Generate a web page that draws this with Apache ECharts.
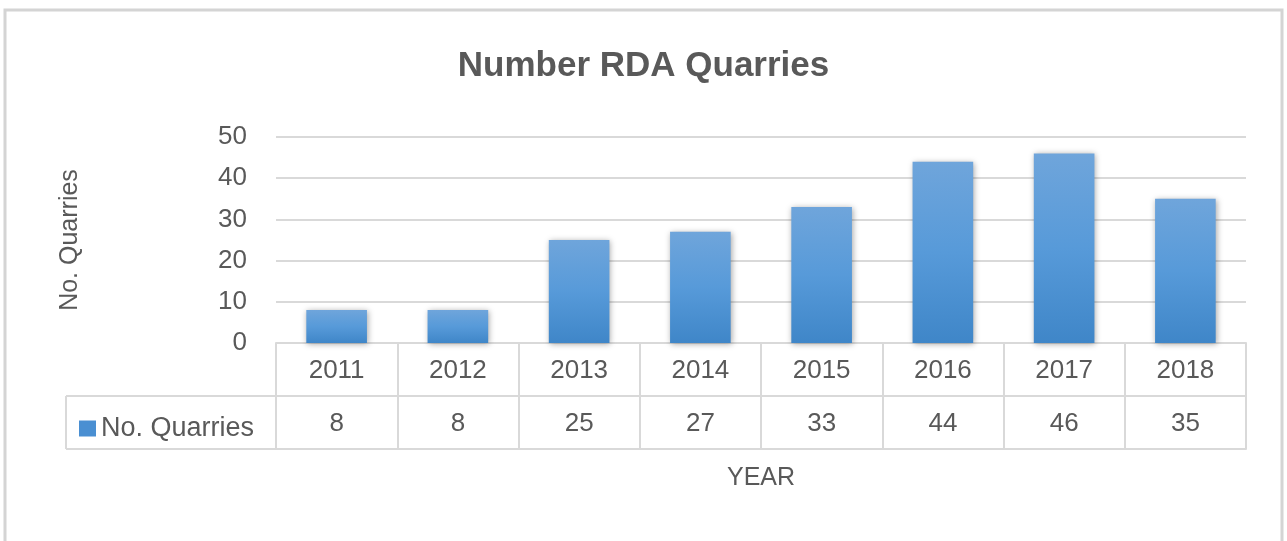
<!DOCTYPE html>
<html>
<head>
<meta charset="utf-8">
<script src="https://cdn.jsdelivr.net/npm/echarts@6/dist/echarts.min.js"></script>
<style>
  html, body { margin: 0; padding: 0; background: #fff; }
  #chart { width: 1287px; height: 541px; }
</style>
</head>
<body>
<div id="chart"></div>
<script>
const years = ['2011', '2012', '2013', '2014', '2015', '2016', '2017', '2018'];
const quarries = [8, 8, 25, 27, 33, 44, 46, 35];
const seriesName = 'No. Quarries';

// plot box (px)
const gLeft = 276, gRight = 1246, gTop = 137, axisY = 343;
const rowH = 53, legendLeft = 66;
const lineCol = '#d9d9d9';
const textCol = '#595959';
const font = 'Liberation Sans';

const chart = echarts.init(document.getElementById('chart'));

const tableLines = [
    // legend cell of the data table
    [legendLeft, axisY + rowH, gLeft, axisY + rowH],
    [legendLeft, axisY + 2 * rowH, gLeft, axisY + 2 * rowH],
    [legendLeft, axisY + rowH, legendLeft, axisY + 2 * rowH]
].map(p => ({
    type: 'line',
    shape: { x1: p[0], y1: p[1], x2: p[2], y2: p[3] },
    style: { stroke: lineCol, lineWidth: 2 },
    z: 1
}));

chart.setOption({
    animation: false,
    textStyle: { fontFamily: font },
    title: {
        text: 'Number RDA Quarries',
        left: 'center',
        top: 44,
        textStyle: { fontSize: 35, fontWeight: 'bold', color: textCol, fontFamily: font }
    },
    legend: {
        data: [seriesName],
        left: legendLeft + 8,
        top: 410,
        icon: 'rect',
        itemWidth: 17,
        itemHeight: 16,
        itemStyle: { color: '#4a8fd2' },
        textStyle: { fontSize: 27, color: textCol },
        selectedMode: false
    },
    grid: { left: gLeft, right: 1287 - gRight, top: gTop, bottom: 541 - axisY },
    xAxis: [
        {
            type: 'category',
            data: years,
            position: 'bottom',
            axisLine: { lineStyle: { color: lineCol, width: 2 } },
            axisTick: { show: true, length: 2 * rowH, interval: 0, lineStyle: { color: lineCol, width: 2 } },
            axisLabel: { margin: 15, fontSize: 26, color: textCol, interval: 0 },
            name: 'YEAR',
            nameLocation: 'middle',
            nameGap: 123,
            nameTextStyle: { fontSize: 25, color: textCol }
        },
        {
            type: 'category',
            data: quarries.map(String),
            position: 'bottom',
            offset: rowH,
            axisLine: { lineStyle: { color: lineCol, width: 2 } },
            axisTick: { show: false },
            axisLabel: { margin: 15, fontSize: 26, color: textCol, interval: 0 }
        },
        {
            type: 'category',
            data: years,
            position: 'bottom',
            offset: 2 * rowH,
            axisLine: { lineStyle: { color: lineCol, width: 2 } },
            axisTick: { show: false },
            axisLabel: { show: false }
        }
    ],
    yAxis: {
        type: 'value',
        min: 0,
        max: 50,
        interval: 10,
        axisLine: { show: false },
        axisTick: { show: false },
        axisLabel: { margin: 29, fontSize: 26, color: textCol },
        splitLine: { lineStyle: { color: lineCol, width: 2 } },
        name: 'No. Quarries',
        nameLocation: 'middle',
        nameGap: 193,
        nameTextStyle: { fontSize: 25, color: textCol }
    },
    series: [{
        name: seriesName,
        type: 'bar',
        xAxisIndex: 0,
        data: quarries,
        barWidth: '50%',
        itemStyle: {
            color: new echarts.graphic.LinearGradient(0, 0, 0, 1, [
                { offset: 0, color: '#6fa5db' },
                { offset: 0.5, color: '#579ad9' },
                { offset: 1, color: '#3f86c8' }
            ]),
            shadowColor: 'rgba(0,0,0,0.35)',
            shadowBlur: 6,
            shadowOffsetX: 1,
            shadowOffsetY: 1
        }
    }],
    graphic: [
        {
            type: 'rect',
            shape: { x: 5, y: 10, width: 1277, height: 560 },
            style: { fill: 'none', stroke: '#d4d4d4', lineWidth: 3 },
            z: 0
        }
    ].concat(tableLines)
});
</script>
</body>
</html>
